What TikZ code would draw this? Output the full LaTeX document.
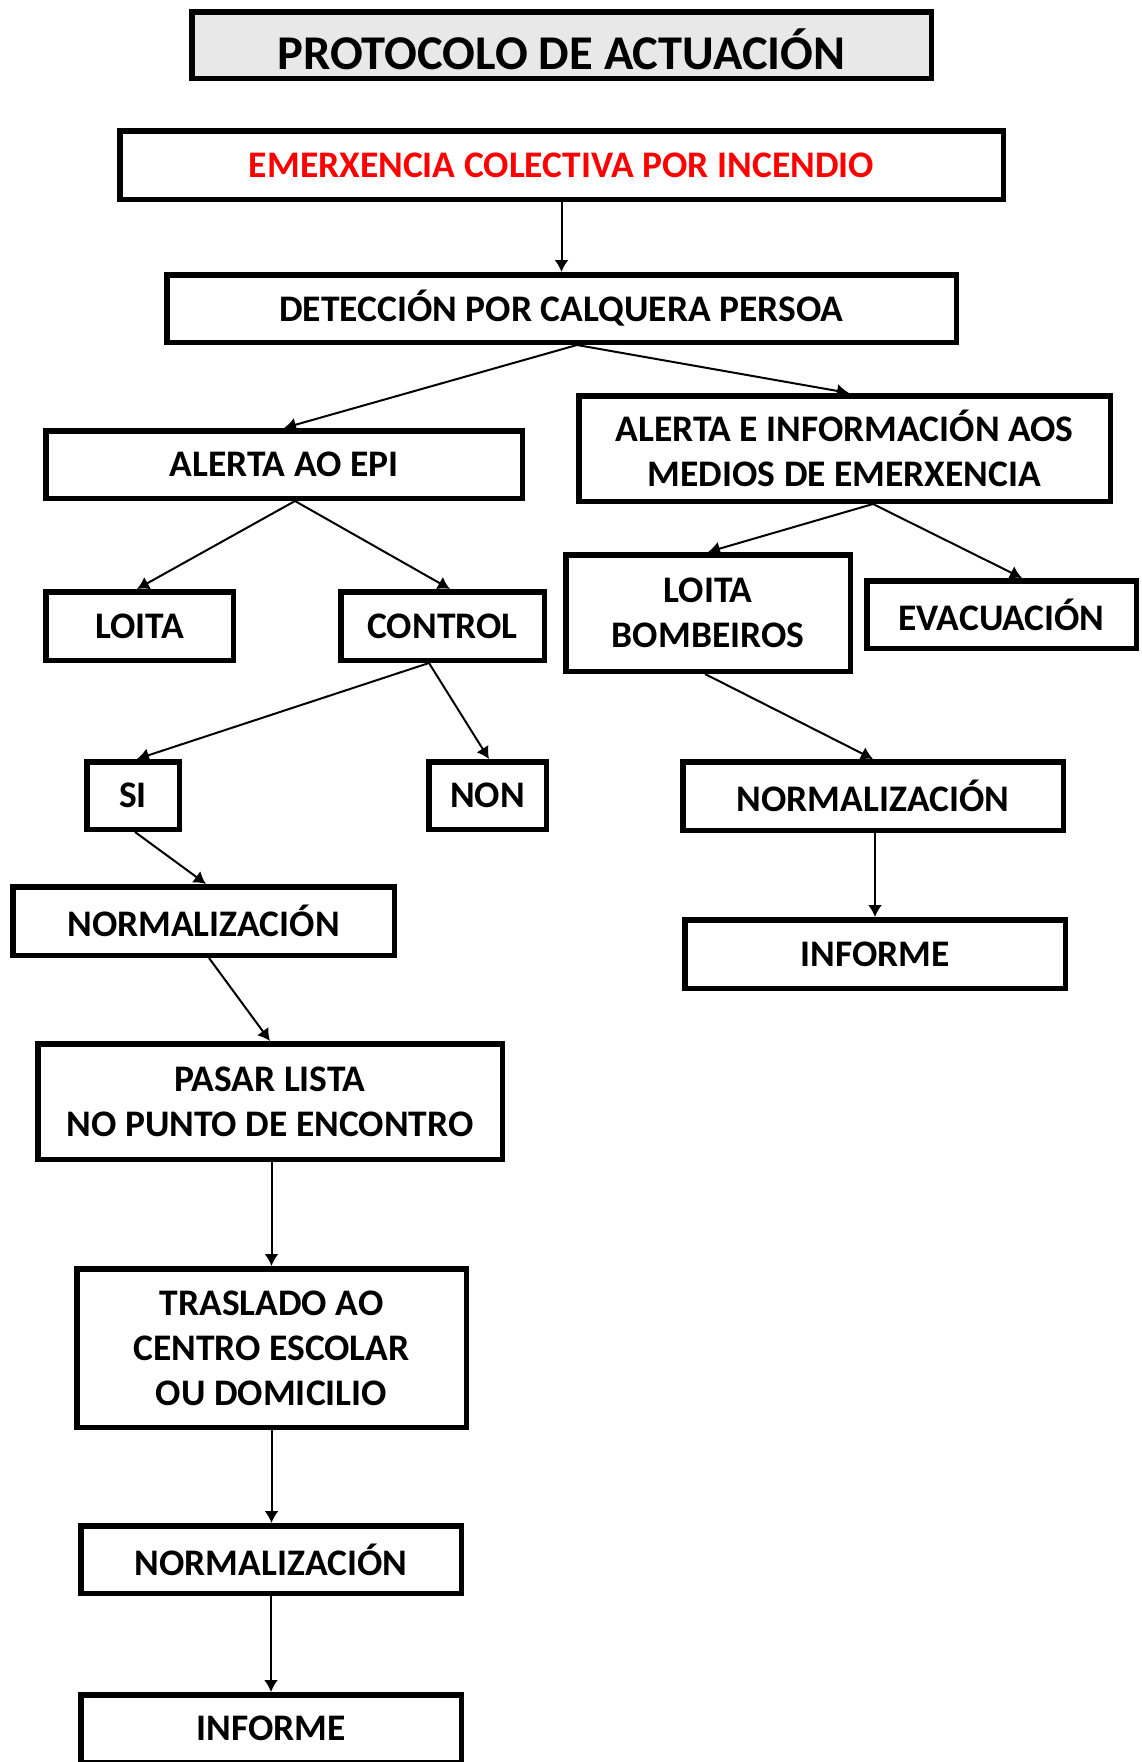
\documentclass[tikz,border=0pt]{standalone}
\usepackage{fontspec}
\setmainfont{Carlito}
\usetikzlibrary{arrows.meta}
\definecolor{titlegray}{RGB}{232,232,232}
\definecolor{emred}{RGB}{255,0,0}
\begin{document}
\begin{tikzpicture}[x=1pt,y=-1pt,
  box/.style={draw, line width=5.5pt, inner sep=0pt, align=center,
    font=\fontsize{37.5}{45}\selectfont\bfseries},
  arr/.style={line width=2pt, -{Latex[length=12pt,width=14pt]}}]
\useasboundingbox (0,0) rectangle (1141,1762);
\fill[white] (0,0) rectangle (1141,1762);
% nodes
\node[box, fill=titlegray, minimum width=739.5pt, minimum height=66.5pt,
  font=\fontsize{48.5}{50}\selectfont\bfseries] (title) at (561.5,45) {\raisebox{-4.5pt}[\height][\depth]{PROTOCOLO DE ACTUACIÓN}};
\node[box, minimum width=883.5pt, minimum height=68.5pt, text=emred] (emx) at (561.5,165) {EMERXENCIA COLECTIVA POR INCENDIO};
\node[box, minimum width=789.5pt, minimum height=67.5pt] (det) at (561.5,308.5) {DETECCIÓN POR CALQUERA PERSOA};
\node[box, minimum width=476.5pt, minimum height=67.5pt] (epi) at (284,464.5) {ALERTA AO EPI};
\node[box, minimum width=531.5pt, minimum height=105.5pt] (info) at (844.5,448.5) {ALERTA E INFORMACIÓN AOS\\MEDIOS DE EMERXENCIA};
\node[box, minimum width=187.5pt, minimum height=68.5pt] (loita) at (139.5,626) {LOITA};
\node[box, minimum width=203.5pt, minimum height=68.5pt] (control) at (442.5,626) {CONTROL};
\node[box, minimum width=284.5pt, minimum height=116.5pt] (lb) at (708,613) {LOITA\\BOMBEIROS};
\node[box, minimum width=269.5pt, minimum height=67.5pt] (evac) at (1001.5,614.5) {EVACUACIÓN};
\node[box, minimum width=92.5pt, minimum height=67.5pt] (si) at (133,795.5) {SI};
\node[box, minimum width=117.5pt, minimum height=67.5pt] (non) at (487.5,795.5) {NON};
\node[box, minimum width=380.5pt, minimum height=68.5pt] (normR) at (873,796) {NORMALIZACIÓN};
\node[box, minimum width=380.5pt, minimum height=68.5pt] (infR) at (875,954) {INFORME};
\node[box, minimum width=381.5pt, minimum height=68.5pt] (normL) at (203.5,921) {NORMALIZACIÓN};
\node[box, minimum width=464.5pt, minimum height=115.5pt] (pasar) at (270,1101.5) {PASAR LISTA\\NO PUNTO DE ENCONTRO};
\node[box, minimum width=389.5pt, minimum height=158.5pt] (tras) at (271.5,1348) {TRASLADO AO\\CENTRO ESCOLAR\\OU DOMICILIO};
\node[box, minimum width=380.5pt, minimum height=67.5pt] (normB) at (271,1559.5) {NORMALIZACIÓN};
\node[box, minimum width=380.5pt, minimum height=67.5pt] (infB) at (271,1728.5) {INFORME};
% connectors
\draw[arr] (emx.south) -- (det.north);
\draw[arr] ([xshift=15.5pt]det.south) -- (epi.north);
\draw[arr] ([xshift=15.5pt]det.south) -- ([xshift=4.5pt]info.north);
\draw[arr] ([xshift=11pt]epi.south) -- ([xshift=-2.5pt]loita.north);
\draw[arr] ([xshift=11pt]epi.south) -- ([xshift=7.5pt]control.north);
\draw[arr] ([xshift=28.5pt]info.south) -- (lb.north);
\draw[arr] ([xshift=28.5pt]info.south) -- ([xshift=20.5pt]evac.north);
\draw[arr] ([xshift=-13.5pt]control.south) -- ([xshift=4pt]si.north);
\draw[arr] ([xshift=-13.5pt]control.south) -- ([xshift=1.5pt]non.north);
\draw[arr] ([xshift=-3pt]lb.south) -- (normR.north);
\draw[arr] (infR.north |- normR.south) -- (infR.north);
\draw[arr] ([xshift=2pt]si.south) -- ([xshift=2.5pt]normL.north);
\draw[arr] ([xshift=5.5pt]normL.south) -- (pasar.north);
\draw[arr] (tras.north |- pasar.south) -- (tras.north);
\draw[arr] (tras.south) -- (tras.south |- normB.north);
\draw[arr] (normB.south) -- (infB.north);
\end{tikzpicture}
\end{document}
